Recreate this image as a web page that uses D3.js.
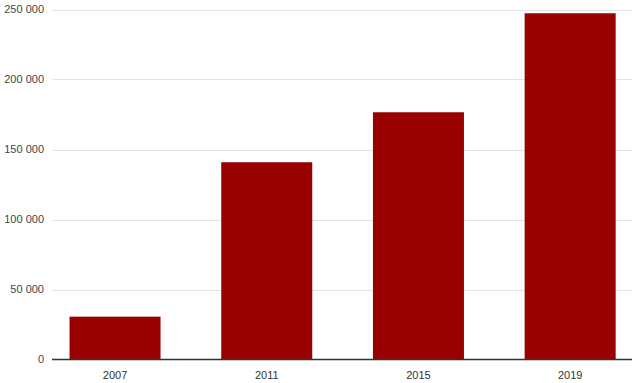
<!DOCTYPE html>
<html><head><meta charset="utf-8">
<script src="https://cdn.jsdelivr.net/npm/d3@7"></script>
<style>body{margin:0;background:#fff}svg{display:block}text{font-family:Arial,"Liberation Sans",sans-serif}</style>
</head><body>
<svg id="c" width="640" height="383"></svg>
<script>
const categories = ["2007","2011","2015","2019"];
const values = [30600, 140900, 176600, 247300];
const yTicks = [0, 50000, 100000, 150000, 200000, 250000];

const svg = d3.select("#c");
const y = d3.scaleLinear().domain([0, 250000]).range([359.5, 9.5]);
const x = d3.scaleBand().domain(categories).range([39.2, 646]).paddingInner(0.4).paddingOuter(0.2);
const gridX0 = 52, gridX1 = 632;
const fmt = v => d3.format(",")(v).replace(/,/g, " ");

svg.append("g").selectAll("line").data(yTicks.filter(t => t > 0)).join("line")
  .attr("x1", gridX0).attr("x2", gridX1)
  .attr("y1", d => Math.round(y(d)) + 0.5).attr("y2", d => Math.round(y(d)) + 0.5)
  .attr("stroke", "#e3e3e3").attr("stroke-width", 1);

svg.append("g").selectAll("text").data(yTicks).join("text")
  .attr("x", 44).attr("y", d => y(d)).attr("dy", "0.35em")
  .attr("text-anchor", "end").attr("font-size", 11).attr("fill", "#444")
  .text(fmt);

svg.append("g").selectAll("rect").data(values).join("rect")
  .attr("x", (d, i) => x(categories[i])).attr("width", x.bandwidth())
  .attr("y", d => y(d)).attr("height", d => y(0) - y(d))
  .attr("fill", "#990000");

svg.append("line").attr("x1", gridX0).attr("x2", gridX1)
  .attr("y1", y(0)).attr("y2", y(0)).attr("stroke", "#333").attr("stroke-width", 1.5);

svg.append("g").selectAll("text").data(categories).join("text")
  .attr("x", d => x(d) + x.bandwidth() / 2).attr("y", 375).attr("dy", "0.35em")
  .attr("text-anchor", "middle").attr("font-size", 11).attr("fill", "#333")
  .text(d => d);
</script>
</body></html>
